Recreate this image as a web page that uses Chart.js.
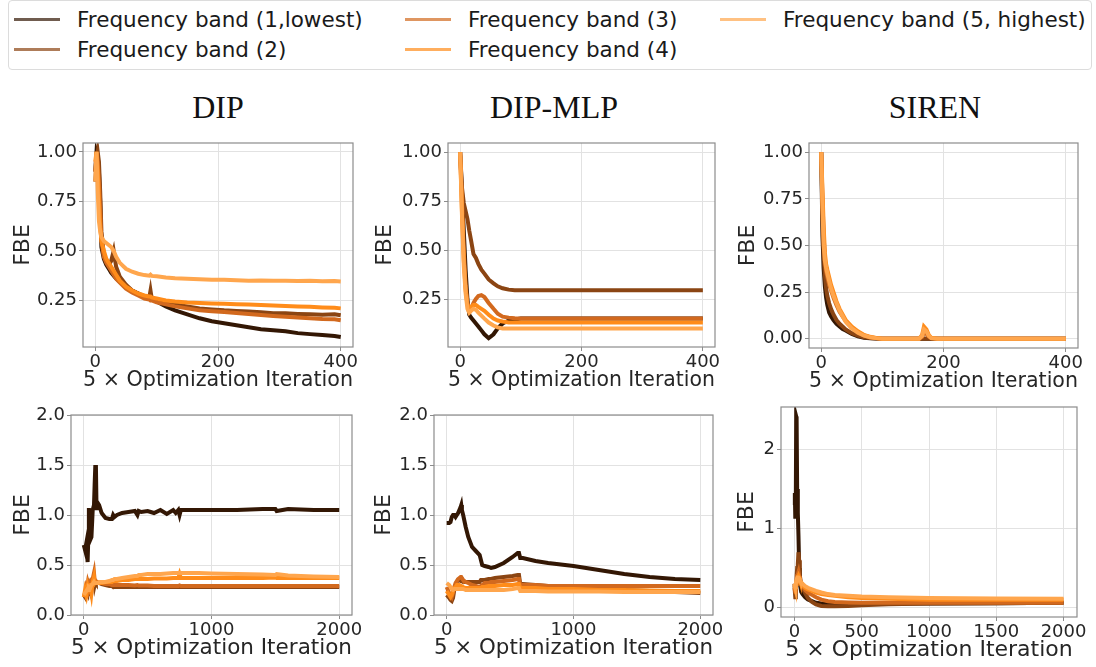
<!DOCTYPE html>
<html>
<head>
<meta charset="utf-8">
<script src="https://cdn.jsdelivr.net/npm/chart.js@4.4.1/dist/chart.umd.min.js"></script>
<style>
  body { margin: 0; width: 1096px; height: 667px; background: #fff; position: relative; overflow: hidden;
         font-family: 'DejaVu Sans', sans-serif; }
  .legend { position: absolute; left: 8px; top: 0; width: 1084px; height: 70px; box-sizing: border-box;
            border: 1px solid #dcdcdc; border-radius: 4px; }
  .item { position: absolute; height: 30px; display: flex; align-items: center; font-size: 21.5px; color: #1a1a1a; white-space: nowrap; }
  .item .swatch { display: inline-block; width: 46px; height: 3px; margin-right: 17px; opacity: .7; }
  .title { position: absolute; top: 91px; transform: translateX(-50%); line-height: 1;
           font-family: 'Liberation Serif', 'Times New Roman', serif; font-size: 32px; color: #111; }
  .panel { position: absolute; }
</style>
</head>
<body>
<div class="legend" id="legend"></div>
<div class="title" style="left:218px">DIP</div>
<div class="title" style="left:554px">DIP-MLP</div>
<div class="title" style="left:935px">SIREN</div>

<script>
// -- series labels / colours --
const bandLabels = ['Frequency band (1,lowest)', 'Frequency band (2)', 'Frequency band (3)',
                    'Frequency band (4)', 'Frequency band (5, highest)'];
const bandColors = ['#331704', '#8b4513', '#d2691e', '#ff8c1a', '#ffa64d'];

// -- DIP, top row --
const dipTopX = [0,2,4,6,8,10,14,18,22,26,30,34,40,50,60,70,80,88,90,92,100,115,130,150,170,190,210,230,250,270,290,310,330,350,370,390,400];
const dipTop1 = [0.9,1.0,0.98,0.9,0.75,0.52,0.46,0.43,0.41,0.39,0.375,0.36,0.345,0.32,0.3,0.285,0.27,0.26,0.258,0.255,0.245,0.22,0.2,0.18,0.16,0.145,0.135,0.125,0.115,0.105,0.1,0.095,0.085,0.08,0.075,0.07,0.065];
const dipTop2 = [0.85,0.95,1.0,0.95,0.8,0.6,0.48,0.45,0.43,0.45,0.5,0.42,0.37,0.33,0.3,0.285,0.27,0.265,0.3,0.26,0.25,0.24,0.23,0.22,0.21,0.205,0.2,0.197,0.194,0.19,0.186,0.185,0.182,0.18,0.178,0.18,0.175];
const dipTop3 = [0.9,1.0,0.95,0.85,0.7,0.55,0.47,0.44,0.42,0.4,0.38,0.36,0.34,0.31,0.29,0.275,0.26,0.255,0.25,0.25,0.24,0.23,0.22,0.21,0.2,0.196,0.192,0.187,0.182,0.177,0.172,0.168,0.164,0.16,0.156,0.155,0.15];
const dipTop4 = [0.95,1.0,0.9,0.75,0.62,0.55,0.5,0.46,0.44,0.42,0.4,0.38,0.35,0.32,0.3,0.285,0.275,0.27,0.27,0.265,0.26,0.25,0.245,0.24,0.237,0.235,0.233,0.231,0.229,0.227,0.225,0.222,0.22,0.218,0.215,0.213,0.21];
const dipTop5 = [0.85,1.0,0.8,0.65,0.6,0.57,0.55,0.54,0.53,0.52,0.5,0.47,0.44,0.41,0.395,0.385,0.378,0.375,0.38,0.374,0.372,0.366,0.362,0.36,0.357,0.355,0.354,0.352,0.35,0.351,0.349,0.35,0.348,0.349,0.347,0.348,0.346];

// -- DIP-MLP, top row --
const mlpTopX = [0,3,6,9,12,15,18,22,26,30,35,40,47,55,62,70,80,90,100,120,150,200,300,400];
const mlpTop1 = [1.0,0.8,0.6,0.4,0.25,0.17,0.155,0.14,0.125,0.11,0.09,0.07,0.05,0.07,0.1,0.125,0.14,0.145,0.15,0.15,0.15,0.15,0.15,0.15];
const mlpTop2 = [1.0,0.82,0.74,0.7,0.66,0.6,0.55,0.48,0.46,0.43,0.4,0.38,0.35,0.33,0.315,0.305,0.298,0.295,0.295,0.295,0.295,0.295,0.295,0.295];
const mlpTop3 = [1.0,0.75,0.5,0.32,0.23,0.2,0.2,0.23,0.25,0.265,0.27,0.26,0.23,0.2,0.175,0.16,0.155,0.152,0.15,0.15,0.15,0.15,0.15,0.15];
const mlpTop4 = [1.0,0.7,0.45,0.3,0.22,0.2,0.21,0.22,0.22,0.21,0.2,0.19,0.17,0.15,0.14,0.135,0.13,0.13,0.13,0.13,0.13,0.13,0.13,0.13];
const mlpTop5 = [1.0,0.68,0.42,0.28,0.2,0.18,0.19,0.2,0.195,0.18,0.165,0.15,0.13,0.115,0.105,0.1,0.1,0.1,0.1,0.1,0.1,0.1,0.1,0.1];

// -- SIREN, top row --
const sirTopX = [0,2,4,6,8,10,13,16,20,25,30,35,40,50,60,70,80,90,100,120,150,160,165,168,172,176,180,190,250,300,400];
const sirTop1 = [1.0,0.55,0.38,0.28,0.22,0.18,0.14,0.12,0.1,0.08,0.065,0.052,0.044,0.025,0.012,0.005,0.002,0.001,0,0,0,0,0,0,0,0,0,0,0,0,0];
const sirTop2 = [1.0,0.65,0.45,0.34,0.27,0.23,0.19,0.16,0.13,0.1,0.08,0.065,0.05,0.03,0.017,0.008,0.003,0.001,0,0,0,0,0,0,0,0,0,0,0,0,0];
const sirTop3 = [1.0,0.75,0.55,0.42,0.36,0.33,0.29,0.26,0.22,0.18,0.145,0.12,0.095,0.06,0.035,0.018,0.008,0.003,0,0,0,0,0.01,0.035,0.025,0.01,0.002,0,0,0,0];
const sirTop4 = [1.0,0.8,0.6,0.46,0.4,0.37,0.33,0.29,0.25,0.2,0.16,0.13,0.1,0.065,0.04,0.02,0.01,0.004,0,0,0,0,0.02,0.065,0.05,0.02,0.005,0,0,0,0];
const sirTop5 = [1.0,0.7,0.5,0.42,0.38,0.35,0.31,0.27,0.23,0.19,0.15,0.12,0.09,0.055,0.032,0.016,0.008,0.003,0,0,0,0,0.015,0.05,0.04,0.015,0.003,0,0,0,0];

// -- DIP, bottom row --
const dipBotX = [0,10,20,30,35,40,50,60,70,80,85,90,95,100,110,120,140,170,200,220,230,240,260,300,350,400,420,430,450,500,550,600,650,700,720,740,750,760,800,900,1000,1200,1400,1500,1510,1600,1800,2000];
const dipBot1 = [0.7,0.65,0.72,0.53,0.75,1.07,0.75,0.78,1.05,1.1,1.3,1.48,1.5,1.05,1.12,1.1,1.02,0.97,0.96,0.96,1.0,0.98,1.0,1.02,1.03,1.04,1.0,1.04,1.03,1.04,1.02,1.05,1.01,1.05,1.02,1.05,1.0,1.05,1.05,1.05,1.05,1.05,1.06,1.06,1.04,1.06,1.05,1.05];
const dipBot2 = [0.2,0.18,0.25,0.22,0.3,0.28,0.3,0.28,0.32,0.35,0.3,0.33,0.32,0.33,0.32,0.32,0.31,0.3,0.29,0.29,0.28,0.29,0.28,0.28,0.28,0.28,0.28,0.28,0.28,0.28,0.28,0.28,0.28,0.28,0.28,0.28,0.28,0.28,0.28,0.28,0.28,0.28,0.28,0.28,0.28,0.28,0.28,0.28];
const dipBot3 = [0.22,0.2,0.28,0.25,0.32,0.3,0.33,0.3,0.36,0.42,0.35,0.33,0.34,0.33,0.33,0.32,0.32,0.31,0.31,0.3,0.3,0.3,0.3,0.3,0.3,0.295,0.3,0.295,0.295,0.295,0.29,0.29,0.29,0.29,0.29,0.29,0.295,0.29,0.29,0.29,0.29,0.29,0.29,0.29,0.29,0.29,0.29,0.29];
const dipBot4 = [0.18,0.25,0.2,0.28,0.25,0.3,0.3,0.22,0.33,0.38,0.32,0.33,0.33,0.32,0.32,0.32,0.32,0.33,0.33,0.33,0.34,0.34,0.34,0.35,0.35,0.36,0.36,0.36,0.36,0.36,0.365,0.365,0.365,0.37,0.37,0.37,0.41,0.37,0.37,0.37,0.37,0.37,0.37,0.375,0.37,0.37,0.37,0.37];
const dipBot5 = [0.2,0.22,0.24,0.26,0.25,0.28,0.27,0.3,0.31,0.33,0.32,0.32,0.32,0.32,0.32,0.33,0.33,0.33,0.34,0.35,0.35,0.36,0.36,0.37,0.38,0.39,0.39,0.4,0.4,0.41,0.41,0.41,0.415,0.42,0.42,0.42,0.42,0.42,0.42,0.42,0.415,0.41,0.405,0.4,0.41,0.395,0.385,0.38];

// -- DIP-MLP, bottom row --
const mlpBotX = [0,20,30,40,50,60,70,80,90,100,110,115,120,130,150,170,200,230,260,270,280,300,330,350,380,450,520,560,570,580,600,700,800,1000,1200,1400,1600,1800,2000];
const mlpBot1 = [0.92,0.92,0.93,0.98,1.0,1.0,0.98,1.0,1.02,1.05,1.08,1.1,1.05,1.0,0.88,0.78,0.68,0.64,0.6,0.55,0.5,0.49,0.48,0.47,0.48,0.52,0.58,0.62,0.62,0.57,0.57,0.54,0.52,0.49,0.45,0.41,0.38,0.36,0.35];
const mlpBot2 = [0.2,0.17,0.15,0.14,0.17,0.25,0.3,0.33,0.35,0.35,0.34,0.34,0.34,0.33,0.33,0.33,0.33,0.33,0.33,0.35,0.35,0.35,0.36,0.36,0.37,0.38,0.39,0.4,0.4,0.31,0.31,0.3,0.29,0.28,0.26,0.25,0.24,0.23,0.22];
const mlpBot3 = [0.28,0.22,0.2,0.18,0.22,0.28,0.32,0.34,0.36,0.37,0.38,0.38,0.37,0.35,0.33,0.32,0.3,0.29,0.28,0.29,0.3,0.32,0.32,0.33,0.33,0.34,0.35,0.36,0.36,0.3,0.3,0.3,0.29,0.29,0.29,0.29,0.29,0.29,0.29];
const mlpBot4 = [0.24,0.2,0.18,0.2,0.24,0.27,0.28,0.3,0.3,0.3,0.29,0.29,0.29,0.28,0.27,0.27,0.27,0.27,0.27,0.27,0.28,0.28,0.29,0.29,0.29,0.3,0.3,0.31,0.31,0.27,0.27,0.27,0.26,0.26,0.25,0.25,0.245,0.24,0.24];
const mlpBot5 = [0.32,0.3,0.28,0.26,0.25,0.26,0.26,0.26,0.26,0.26,0.26,0.26,0.26,0.26,0.25,0.25,0.25,0.25,0.25,0.25,0.25,0.25,0.25,0.25,0.25,0.25,0.26,0.27,0.27,0.24,0.24,0.24,0.235,0.235,0.235,0.23,0.23,0.23,0.23];

// -- SIREN, bottom row --
const sirBotX = [0,3,6,10,13,16,20,25,30,35,40,50,60,80,100,130,160,200,250,300,400,500,700,1000,1500,2000];
const sirBot1 = [1.3,1.45,1.15,1.3,2.42,2.4,1.5,1.2,0.9,0.5,0.3,0.2,0.17,0.13,0.1,0.08,0.06,0.05,0.04,0.04,0.04,0.045,0.05,0.05,0.055,0.06];
const sirBot2 = [0.3,0.2,0.13,0.2,0.3,0.4,0.5,0.55,0.7,0.6,0.4,0.3,0.25,0.18,0.12,0.07,0.04,0.02,0.015,0.015,0.02,0.03,0.04,0.05,0.055,0.06];
const sirBot3 = [0.25,0.22,0.2,0.25,0.3,0.35,0.4,0.42,0.45,0.4,0.35,0.3,0.27,0.22,0.19,0.16,0.13,0.1,0.08,0.07,0.065,0.06,0.06,0.06,0.06,0.06];
const sirBot4 = [0.28,0.26,0.25,0.28,0.3,0.33,0.36,0.38,0.4,0.38,0.35,0.3,0.28,0.25,0.23,0.21,0.19,0.17,0.16,0.15,0.13,0.12,0.11,0.1,0.1,0.1];
const sirBot5 = [0.3,0.28,0.26,0.3,0.33,0.35,0.37,0.38,0.38,0.37,0.35,0.32,0.3,0.27,0.25,0.23,0.21,0.19,0.17,0.16,0.15,0.14,0.13,0.12,0.115,0.11];

// -- tick labels --
const xTicksTop = [0, 200, 400];
const xTicksBot = [0, 1000, 2000];
const xTicksSiren = [0, 500, 1000, 1500, 2000];
const yTicksTop = [0.25, 0.5, 0.75, 1.0];
const yTicksSirenTop = [0, 0.25, 0.5, 0.75, 1.0];
const yTicksBot = [0, 0.5, 1.0, 1.5, 2.0];
const yTicksSirenBot = [0, 1, 2];

// panel layout: box = plot area [left, top, right, bottom] in page pixels
const panels = [
  { x: dipTopX, ys: [dipTop1, dipTop2, dipTop3, dipTop4, dipTop5], box: [83, 143, 353, 347], canvasLeft: 10,
    xr: [-20, 420], yr: [0.015, 1.045], xt: xTicksTop, yt: yTicksTop, dec: 2 },
  { x: mlpTopX, ys: [mlpTop1, mlpTop2, mlpTop3, mlpTop4, mlpTop5], box: [448, 143, 715, 347], canvasLeft: 372,
    xr: [-20, 420], yr: [0.005, 1.047], xt: xTicksTop, yt: yTicksTop, dec: 2 },
  { x: sirTopX, ys: [sirTop1, sirTop2, sirTop3, sirTop4, sirTop5], box: [809, 143, 1078, 348], canvasLeft: 735,
    xr: [-20, 420], yr: [-0.05, 1.05], xt: xTicksTop, yt: yTicksSirenTop, dec: 2, padRight: 14 },
  { x: dipBotX, ys: [dipBot1, dipBot2, dipBot3, dipBot4, dipBot5], box: [71, 415, 352, 615], canvasLeft: 10,
    xr: [-100, 2100], yr: [0, 2], xt: xTicksBot, yt: yTicksBot, dec: 1 },
  { x: mlpBotX, ys: [mlpBot1, mlpBot2, mlpBot3, mlpBot4, mlpBot5], box: [434, 415, 713, 615], canvasLeft: 371,
    xr: [-100, 2100], yr: [0, 2], xt: xTicksBot, yt: yTicksBot, dec: 1 },
  { x: sirBotX, ys: [sirBot1, sirBot2, sirBot3, sirBot4, sirBot5], box: [781, 407, 1077, 617], canvasLeft: 734,
    xr: [-100, 2100], yr: [-0.12, 2.54], xt: xTicksSiren, yt: yTicksSirenBot, dec: 0, padRight: 14 }
];

// legend (matplotlib ncol=3 fills column by column)
const legendCols = [14, 405, 720];
const legendRows = [3, 33];
const legendEl = document.getElementById('legend');
bandLabels.forEach((lab, i) => {
  const it = document.createElement('div');
  it.className = 'item';
  it.style.left = (legendCols[Math.floor(i / 2)] - 9) + 'px';
  it.style.top = legendRows[i % 2] + 'px';
  it.innerHTML = '<span class="swatch" style="background:' + bandColors[i] + '"></span>' + lab;
  legendEl.appendChild(it);
});

// spines on all four sides
const framePlugin = {
  id: 'frame',
  afterDraw(chart) {
    const { ctx, chartArea: a } = chart;
    ctx.save();
    ctx.strokeStyle = '#8c8c8c';
    ctx.lineWidth = 1.2;
    ctx.strokeRect(a.left, a.top, a.right - a.left, a.bottom - a.top);
    ctx.restore();
  }
};

Chart.defaults.font.family = "'DejaVu Sans', sans-serif";
Chart.defaults.color = '#262626';

const padTop = 14, xAxisH = 46;

panels.forEach(p => {
  const [bl, bt, br, bb] = p.box;
  const padRight = p.padRight || 16;
  const yAxisW = bl - p.canvasLeft;
  const wrap = document.createElement('div');
  wrap.className = 'panel';
  wrap.style.left = p.canvasLeft + 'px';
  wrap.style.top = (bt - padTop) + 'px';
  wrap.style.width = (yAxisW + br - bl + padRight) + 'px';
  wrap.style.height = (padTop + bb - bt + xAxisH) + 'px';
  const cv = document.createElement('canvas');
  wrap.appendChild(cv);
  document.body.appendChild(wrap);

  new Chart(cv.getContext('2d'), {
    type: 'line',
    data: {
      datasets: p.ys.map((ys, i) => ({
        label: bandLabels[i],
        data: p.x.map((x, k) => ({ x: x, y: ys[k] })),
        borderColor: bandColors[i],
        borderWidth: 4,
        pointRadius: 0,
        tension: 0,
        fill: false,
        order: 5 - i
      }))
    },
    options: {
      responsive: true,
      maintainAspectRatio: false,
      animation: false,
      events: [],
      layout: { padding: { top: padTop, right: padRight, left: 0, bottom: 0 } },
      plugins: { legend: { display: false }, tooltip: { enabled: false } },
      scales: {
        x: {
          type: 'linear', min: p.xr[0], max: p.xr[1],
          afterBuildTicks: s => { s.ticks = p.xt.map(v => ({ value: v })); },
          afterFit: s => { s.height = xAxisH; },
          ticks: { font: { size: 18 }, padding: 1, maxRotation: 0, callback: v => String(v) },
          grid: { color: '#e2e2e2', tickLength: 4, tickColor: '#8c8c8c' },
          border: { display: false },
          title: { display: true, text: '5 × Optimization Iteration', font: { size: 22 }, padding: 0 }
        },
        y: {
          type: 'linear', min: p.yr[0], max: p.yr[1],
          afterBuildTicks: s => { s.ticks = p.yt.map(v => ({ value: v })); },
          afterFit: s => { s.width = yAxisW; },
          ticks: { font: { size: 18 }, padding: 2, callback: v => Number(v).toFixed(p.dec) },
          grid: { color: '#e2e2e2', tickLength: 4, tickColor: '#8c8c8c' },
          border: { display: false },
          title: { display: true, text: 'FBE', font: { size: 22 }, padding: 0 }
        }
      }
    },
    plugins: [framePlugin]
  });
});
</script>
</body>
</html>
